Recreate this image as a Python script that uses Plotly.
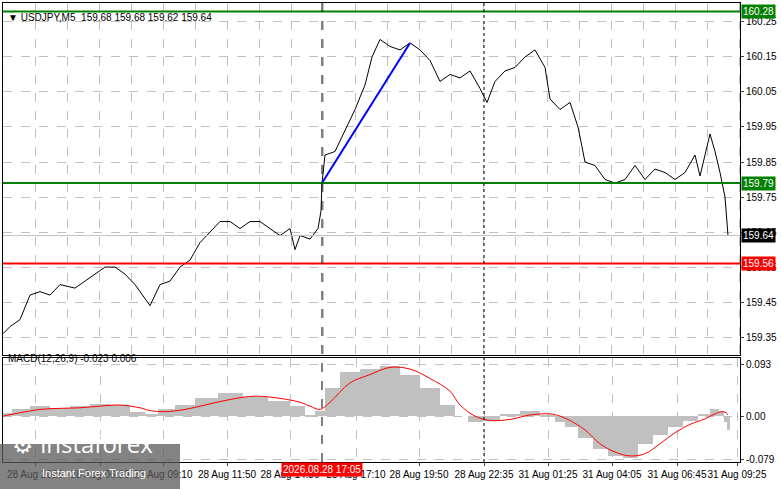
import plotly.graph_objects as go
import numpy as np

# price path (bar position, price)
bar_x = [3,10,20,30,40,50,60,75,90,105,115,125,135,145,150,160,170,180,190,200,210,220,230,240,250,260,270,280,290,295,300,310,318,321,322,325,335,345,355,365,372,380,390,400,410,420,430,440,450,460,470,480,487,495,505,515,525,535,545,550,560,570,578,585,595,605,615,625,635,645,655,665,675,685,695,700,710,715,720,725,728]
price = [159.36,159.38,159.40,159.47,159.48,159.47,159.50,159.49,159.52,159.55,159.55,159.53,159.50,159.46,159.44,159.50,159.51,159.55,159.57,159.62,159.65,159.68,159.68,159.66,159.68,159.68,159.66,159.64,159.66,159.60,159.64,159.63,159.66,159.71,159.79,159.87,159.88,159.94,160.00,160.07,160.15,160.20,160.18,160.17,160.19,160.17,160.14,160.08,160.10,160.09,160.11,160.06,160.02,160.08,160.11,160.12,160.15,160.17,160.12,160.03,160.00,160.02,159.95,159.85,159.84,159.80,159.79,159.80,159.84,159.80,159.83,159.82,159.80,159.82,159.87,159.81,159.93,159.88,159.82,159.75,159.64]

macd_x = [3,20,40,60,80,100,120,140,150,165,185,205,230,255,280,300,310,320,330,350,370,390,410,430,450,460,475,490,510,530,550,560,570,585,600,615,630,645,660,675,690,705,715,722,726,728]
macd_hist = [0.005,0.012,0.018,0.015,0.018,0.022,0.020,0.008,0.004,0.012,0.020,0.032,0.042,0.035,0.028,0.018,0.002,0.010,0.050,0.080,0.085,0.090,0.075,0.050,0.020,0.000,-0.010,-0.008,0.004,0.010,0.002,-0.010,-0.020,-0.040,-0.060,-0.072,-0.075,-0.050,-0.035,-0.020,-0.008,0.004,0.012,0.010,-0.010,-0.025]
macd_signal = [0.000,0.006,0.012,0.014,0.015,0.018,0.020,0.015,0.010,0.008,0.012,0.020,0.030,0.036,0.032,0.025,0.018,0.012,0.025,0.060,0.075,0.088,0.085,0.068,0.045,0.020,0.000,-0.008,-0.006,0.002,0.004,0.000,-0.008,-0.025,-0.050,-0.065,-0.072,-0.068,-0.050,-0.030,-0.015,-0.005,0.004,0.008,0.006,0.002]

tick_pos = [35,100,163,227,290,356,419,484,548,612,677,737]
tick_text = ["28 Aug 2026","28 Aug 06:30","28 Aug 09:10","28 Aug 11:50","28 Aug 14:30","28 Aug 17:10","28 Aug 19:50","28 Aug 22:35","31 Aug 01:25","31 Aug 04:05","31 Aug 06:45","31 Aug 09:25"]
price_ticks = [159.35,159.45,159.55,159.65,159.75,159.85,159.95,160.05,160.15,160.25]

W, H = 781, 489
def py(p): return 1 - p / H

mx = np.array(macd_x, dtype=float)
edges = np.concatenate([[mx[0]], (mx[1:] + mx[:-1]) / 2, [mx[-1] + 2]])
bar_w = list(np.diff(edges))
bar_c = list((edges[1:] + edges[:-1]) / 2)

fig = go.Figure()
fig.add_trace(go.Scatter(x=bar_x, y=price, mode="lines", line=dict(color="black", width=1), xaxis="x", yaxis="y"))
fig.add_trace(go.Scatter(x=[322, 410], y=[159.79, 160.19], mode="lines", line=dict(color="#0000ff", width=2), xaxis="x", yaxis="y"))
fig.add_trace(go.Bar(x=bar_c, y=macd_hist, width=bar_w, marker=dict(color="#c0c0c0", line=dict(width=0)), xaxis="x2", yaxis="y2"))
fig.add_trace(go.Scatter(x=macd_x, y=macd_signal, mode="lines", line=dict(color="red", width=1, shape="spline"), xaxis="x2", yaxis="y2"))

xdom = [3 / W, 740 / W]
grid = dict(showgrid=True, gridcolor="#c0c0c0", griddash="dash", gridwidth=1)
fig.update_layout(
    width=W, height=H, margin=dict(l=0, r=0, t=0, b=0), showlegend=False,
    paper_bgcolor="white", plot_bgcolor="white", bargap=0,
    font=dict(family="Liberation Sans", size=10, color="black"),
    xaxis=dict(domain=xdom, range=[3, 740], tickvals=[35 + 32 * i for i in range(23)], showticklabels=False,
               showline=True, linecolor="black", mirror=True, anchor="y", zeroline=False, automargin=False, **grid),
    yaxis=dict(domain=[py(355), py(3)], range=[159.299, 160.304], side="right", tickvals=price_ticks,
               ticktext=[f"{v:.2f}" for v in price_ticks], showline=True, linecolor="black", mirror=True,
               zeroline=False, anchor="x", ticks="outside", ticklen=3, automargin=False, **grid),
    xaxis2=dict(domain=xdom, range=[3, 740], tickvals=tick_pos, ticktext=tick_text, showline=True, linecolor="black",
                mirror=True, anchor="y2", zeroline=False, ticks="outside", ticklen=3, tickangle=0,
                tickfont=dict(size=10), automargin=False, **grid),
    yaxis2=dict(domain=[py(462), py(358)], range=[-0.083, 0.105], side="right", tickvals=[-0.079, 0.0, 0.093],
                ticktext=["-0.079", "0.00", "0.093"], showline=True, linecolor="black", mirror=True, zeroline=False,
                anchor="x2", ticks="outside", ticklen=3, automargin=False, **grid),
)

# horizontal level lines
for lvl, col in [(160.28, "green"), (159.79, "green"), (159.56, "red")]:
    fig.add_shape(type="line", xref="x", yref="y", x0=3, x1=740, y0=lvl, y1=lvl, line=dict(color=col, width=2))
    fig.add_annotation(xref="paper", yref="y", x=741 / W, y=lvl, text=f"{lvl:.2f}", showarrow=False, xanchor="left",
                       font=dict(color="white", size=10), bgcolor=col, borderpad=1)
fig.add_shape(type="line", xref="x", yref="y", x0=3, x1=740, y0=159.64, y1=159.64, line=dict(color="#c0c0c0", width=1))
fig.add_annotation(xref="paper", yref="y", x=741 / W, y=159.64, text="159.64", showarrow=False, xanchor="left",
                   font=dict(color="white", size=10), bgcolor="black", borderpad=1)
# vertical separators
fig.add_shape(type="line", xref="x", yref="paper", x0=322, x1=322, y0=py(462), y1=py(3), line=dict(color="black", width=1, dash="dash"))
fig.add_shape(type="line", xref="x", yref="paper", x0=484, x1=484, y0=py(462), y1=py(3), line=dict(color="black", width=1, dash="dot"))

fig.add_annotation(xref="paper", yref="paper", x=6 / W, y=py(10), text="▼ USDJPY,M5  159.68 159.68 159.62 159.64",
                   showarrow=False, xanchor="left", font=dict(size=10, color="black"))
fig.add_annotation(xref="paper", yref="paper", x=6 / W, y=py(366), text="MACD(12,26,9) -0.023 0.006",
                   showarrow=False, xanchor="left", font=dict(size=10, color="black"))
fig.add_annotation(xref="x2", yref="paper", x=322, y=py(477), text="2026.08.28 17:05", showarrow=False,
                   font=dict(size=10, color="white"), bgcolor="red", borderpad=1)
# watermark
fig.add_shape(type="rect", xref="paper", yref="paper", x0=0, x1=180 / W, y0=0, y1=py(444),
              fillcolor="rgba(90,90,90,0.75)", line=dict(width=0))
fig.add_annotation(xref="paper", yref="paper", x=10 / W, y=py(462), text="⚙ instaforex", showarrow=False, xanchor="left",
                   font=dict(size=24, color="white", family="Open Sans"))
fig.add_annotation(xref="paper", yref="paper", x=40 / W, y=py(481), text="Instant Forex Trading", showarrow=False,
                   xanchor="left", font=dict(size=11, color="white"))

fig.write_html("out.html", config={"displayModeBar": False},
               post_script="document.body.style.margin='0';document.body.style.overflow='hidden';")
